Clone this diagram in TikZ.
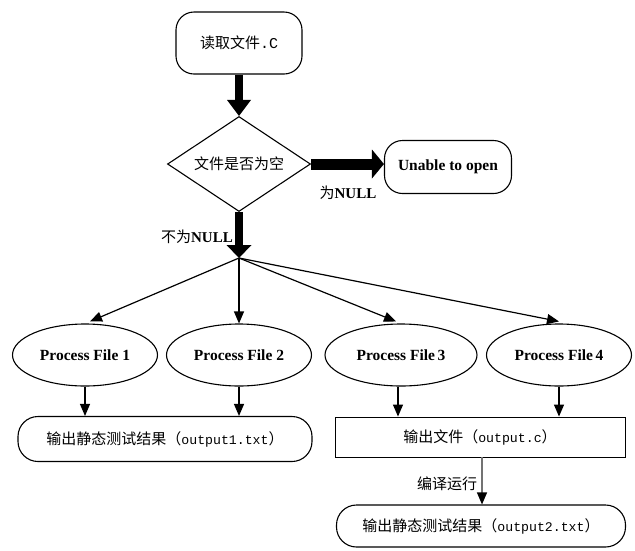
\documentclass[tikz,border=0pt]{standalone}
\usepackage{fontspec}
\setmainfont{Liberation Serif}
\newfontfamily\cjk{Noto Sans CJK SC}
\newfontfamily\monof{Liberation Mono}
\usetikzlibrary{shapes.geometric,arrows.meta}
\newcommand{\asc}[1]{{\monof\fontsize{13.2pt}{15pt}\selectfont #1}}
\begin{document}
\begin{tikzpicture}[x=1pt,y=-1pt,
  every node/.style={font=\fontsize{15pt}{18pt}\selectfont, inner sep=0pt},
  rbox/.style={draw, line width=1.1pt, rounded corners=18pt},
  ell/.style={draw, ellipse, line width=1.1pt, minimum width=145pt, minimum height=62pt,
              font=\fontsize{15.5pt}{18pt}\bfseries\selectfont},
  thinarrow/.style={line width=1.2pt, -{Triangle[width=10pt,length=12pt]}},
  lbl/.style={font=\fontsize{15pt}{18pt}\selectfont}
]
\useasboundingbox (0,0) rectangle (635,550);

% nodes
\node[rbox, minimum width=126pt, minimum height=62pt] (read) at (239,43)
  {{\cjk 读取文件}{\monof\fontsize{15pt}{18pt}\selectfont .C}};
\node[draw, diamond, aspect=1.5, line width=1.1pt, minimum width=143pt, minimum height=95pt]
  (dia) at (239,164) {\cjk 文件是否为空};
\node[rbox, minimum width=127pt, minimum height=53pt,
      font=\fontsize{15.5pt}{18pt}\bfseries\selectfont] (un) at (448,167) {Unable to open};
\coordinate (br) at (239,258);

\node[ell] (p1) at (85,355) {Process File 1};
\node[ell] (p2) at (239,355) {Process File 2};
\node[ell, minimum width=152pt] (p3) at (401,355) {Process File\,3};
\node[ell] (p4) at (559,355) {Process File\,4};

\node[rbox, rounded corners=20pt, minimum width=294pt, minimum height=45pt] (o1) at (165,439)
  {{\cjk 输出静态测试结果（}\asc{output1.txt}{\cjk ）}};
\node[draw, line width=0.9pt, minimum width=290pt, minimum height=40pt] (oc) at (480,437)
  {{\cjk 输出文件（}\asc{output.c}{\cjk ）}};
\node[rbox, rounded corners=20pt, minimum width=289pt, minimum height=42pt] (o2) at (481,526)
  {{\cjk 输出静态测试结果（}\asc{output2.txt}{\cjk ）}};

% thick arrows
\draw[line width=8pt, -{Triangle[width=24pt,length=16pt,line width=0pt]}]
  (read.south) -- (dia.north);
\draw[line width=11pt, -{Triangle[width=29pt,length=12pt,line width=0pt]}]
  (dia.east) -- (dia.east -| un.west);
\draw[line width=8pt, -{Triangle[width=25pt,length=13pt,line width=0pt]}]
  (dia.south) -- (br);

% labels
\node[lbl] (lnull) at (348,193) {{\cjk 为}\textbf{NULL}};
\node[lbl] (lnotnull) at (197,237) {{\cjk 不为}\textbf{NULL}};

% branch arrows
\draw[thinarrow] (br) -- ([xshift=5pt,yshift=2pt]p1.north);
\draw[thinarrow] (br) -- (p2.north);
\draw[thinarrow] (br) -- ([xshift=-5pt,yshift=2pt]p3.north);
\draw[thinarrow] (br) -- ([yshift=2pt]p4.north);

% down arrows
\draw[thinarrow] (p1.south) -- (p1.south |- o1.north);
\draw[thinarrow] (p2.south) -- (p2.south |- o1.north);
\draw[thinarrow] ([xshift=-3pt]p3.south) -- ([xshift=-3pt]p3.south |- oc.north);
\draw[thinarrow] (p4.south) -- (p4.south |- oc.north);

\coordinate (cx) at (482,457);
\draw[line width=1.2pt, draw=black!55, -{Triangle[width=10pt,length=12pt,color=black]}]
  (cx) -- (cx |- o2.north);
\node[lbl] (lcomp) at (447,484) {\cjk 编译运行};
\end{tikzpicture}
\end{document}
